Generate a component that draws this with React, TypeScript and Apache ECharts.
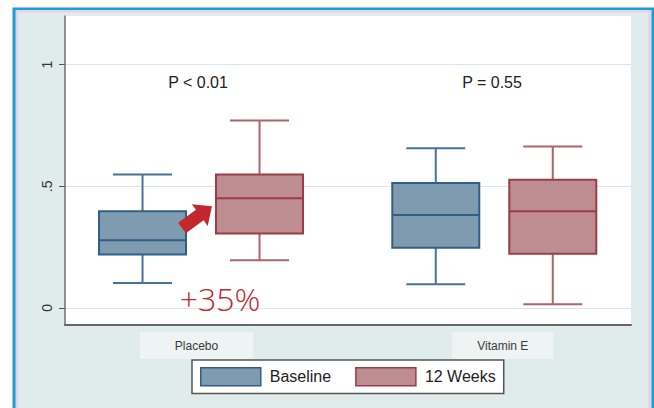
import React, { useEffect, useRef } from 'react';
import * as echarts from 'echarts';

// ---- data ----
const GROUPS = ['Placebo', 'Vitamin E'];
const SERIES_NAMES = ['Baseline', '12 Weeks'];
// [min, Q1, median, Q3, max]
const BASELINE = [
  [0.103, 0.22, 0.278, 0.398, 0.549],
  [0.097, 0.248, 0.382, 0.514, 0.656],
];
const WEEK12 = [
  [0.196, 0.306, 0.451, 0.549, 0.771],
  [0.015, 0.223, 0.398, 0.527, 0.664],
];
const Y_TICKS = [0, 0.5, 1];
const Y_TICK_LABELS = ['0', '.5', '1'];
const P_LABELS = ['P < 0.01', 'P = 0.55'];
const CHANGE_LABEL = '+35%';

const Y_MIN = -0.07;
const Y_MAX = 1.2;

const FONT = "'Liberation Sans', Arial, sans-serif";

const STYLES = [
  { offset: -58.5, fill: '#7f9bb0', stroke: '#2f5f87', whisker: '#45739a' },
  { offset: 58.5, fill: '#bd8d92', stroke: '#9c3c47', whisker: '#b0636c' },
];

const BOX_HALF = 43.5;
const CAP_HALF = 29.5;

function makeRender(st: any) {
  return (params: any, api: any) => {
    const cat = api.value(0);
    const p = (v: number) => api.coord([cat, v]);
    const x = p(api.value(3))[0] + st.offset;
    const yMin = p(api.value(1))[1];
    const yQ1 = p(api.value(2))[1];
    const yMed = p(api.value(3))[1];
    const yQ3 = p(api.value(4))[1];
    const yMax = p(api.value(5))[1];
    const ws = { stroke: st.whisker, lineWidth: 2 };
    return {
      type: 'group',
      children: [
        { type: 'line', shape: { x1: x, y1: yMax, x2: x, y2: yQ3 }, style: ws },
        { type: 'line', shape: { x1: x, y1: yQ1, x2: x, y2: yMin }, style: ws },
        { type: 'line', shape: { x1: x - CAP_HALF, y1: yMax, x2: x + CAP_HALF, y2: yMax }, style: ws },
        { type: 'line', shape: { x1: x - CAP_HALF, y1: yMin, x2: x + CAP_HALF, y2: yMin }, style: ws },
        {
          type: 'rect',
          shape: { x: x - BOX_HALF, y: yQ3, width: BOX_HALF * 2, height: yQ1 - yQ3 },
          style: { fill: st.fill, stroke: st.stroke, lineWidth: 2 },
        },
        { type: 'line', shape: { x1: x - BOX_HALF, y1: yMed, x2: x + BOX_HALF, y2: yMed }, style: { stroke: st.stroke, lineWidth: 2 } },
      ],
    };
  };
}

export default function App() {
  const ref = useRef<HTMLDivElement>(null);
  useEffect(() => {
    if (!ref.current) return;
    const chart = echarts.init(ref.current, null, { renderer: 'svg' });
    const seriesData = [BASELINE, WEEK12];
    const option: any = {
      animation: false,
      backgroundColor: '#ffffff',
      textStyle: { fontFamily: FONT },
      grid: [
        { left: 65, right: 23, top: 16, bottom: 83, show: true, backgroundColor: '#ffffff', borderWidth: 0 },
        { left: 54.4, right: 13.1, top: 16, bottom: 83 },
      ],
      xAxis: [
        {
          type: 'value', gridIndex: 0, min: 0, max: 1,
          axisLine: { show: true, onZero: false, lineStyle: { color: '#666', width: 2 } },
          axisTick: { show: false }, axisLabel: { show: false }, splitLine: { show: false },
        },
        {
          type: 'category', gridIndex: 1, data: GROUPS,
          axisLine: { show: false }, axisTick: { show: false }, splitLine: { show: false },
          axisLabel: {
            margin: 7,
            formatter: (v: string, i: number) => (i === 0 ? `{a|${v}}{sp1| }` : `{sp2| }{b|${v}}`),
            rich: {
              a: { width: 113, height: 27, lineHeight: 27, align: 'center', backgroundColor: '#eef3f3', color: '#3a3a3a', fontSize: 12, fontFamily: FONT },
              b: { width: 101, height: 27, lineHeight: 27, align: 'center', backgroundColor: '#eef3f3', color: '#3a3a3a', fontSize: 12, fontFamily: FONT },
              sp1: { width: 9, height: 27 },
              sp2: { width: 17, height: 27 },
            },
          },
        },
      ],
      yAxis: [
        {
          type: 'value', gridIndex: 0, min: Y_MIN, max: Y_MAX,
          axisLine: { show: true, onZero: false, lineStyle: { color: '#707070', width: 1.5 } },
          axisTick: { show: true, length: 6, customValues: Y_TICKS, lineStyle: { color: '#555', width: 1 } },
          axisLabel: {
            customValues: Y_TICKS, rotate: 90, margin: 11, color: '#333', fontSize: 14,
            formatter: (v: number) => {
              const i = Y_TICKS.findIndex((t) => Math.abs(t - v) < 1e-9);
              return i >= 0 ? Y_TICK_LABELS[i] : '';
            },
          },
          splitLine: { show: true, lineStyle: { color: '#d8e8e6', width: 1 } },
        },
        { type: 'value', gridIndex: 1, min: Y_MIN, max: Y_MAX, show: false, splitLine: { show: false } },
      ],
      legend: {
        left: 192, top: 360, orient: 'horizontal', icon: 'rect', selectedMode: false,
        itemWidth: 60, itemHeight: 18, itemGap: 24, padding: [7, 8],
        borderColor: '#555', borderWidth: 1.5, backgroundColor: '#ffffff',
        textStyle: { fontSize: 16, fontFamily: FONT, color: '#222', padding: [0, 0, 0, 4] },
        data: SERIES_NAMES.map((n, i) => ({
          name: n,
          itemStyle: { color: STYLES[i].fill, borderColor: STYLES[i].stroke, borderWidth: 1.5 },
        })),
      },
      graphic: [
        { type: 'rect', z: -3, shape: { x: 12.5, y: 7.5, width: 641.5, height: 400.5 }, style: { fill: '#1b9fd9' } },
        { type: 'rect', z: -2, shape: { x: 15.5, y: 10, width: 636, height: 398 }, style: { fill: '#e9d2e2' } },
        { type: 'rect', z: -1, shape: { x: 18, y: 12.5, width: 630, height: 395.5 }, style: { fill: '#dfeceb' } },
        {
          type: 'text', z: 10, x: 198, y: 82,
          style: { text: P_LABELS[0], fontSize: 16, fill: '#222', align: 'center', verticalAlign: 'middle', fontFamily: FONT },
        },
        {
          type: 'text', z: 10, x: 492, y: 82,
          style: { text: P_LABELS[1], fontSize: 16, fill: '#222', align: 'center', verticalAlign: 'middle', fontFamily: FONT },
        },
        {
          type: 'text', z: 10, x: 220, y: 298,
          style: { text: CHANGE_LABEL, fontSize: 32, fontWeight: 300, fill: '#c1272d', align: 'center', verticalAlign: 'middle', fontFamily: "'Open Sans', 'Liberation Sans', sans-serif" },
        },
        {
          type: 'group', z: 10, x: 182, y: 228, rotation: (36 * Math.PI) / 180,
          children: [
            {
              type: 'polygon', z: 10,
              shape: { points: [[0, -6.5], [22, -6.5], [22, -13.5], [37, 0], [22, 13.5], [22, 6.5], [0, 6.5]] },
              style: { fill: '#c1272d' },
            },
          ],
        },
      ],
      series: seriesData.map((d, i) => ({
        type: 'custom',
        name: SERIES_NAMES[i],
        xAxisIndex: 1,
        yAxisIndex: 1,
        renderItem: makeRender(STYLES[i]),
        itemStyle: { color: STYLES[i].fill },
        encode: { x: 0, y: [1, 2, 3, 4, 5] },
        data: d.map((row, j) => [j, ...row]),
        z: 5,
      })),
    };
    chart.setOption(option);
    return () => chart.dispose();
  }, []);
  return <div ref={ref} style={{ position: 'absolute', left: 0, top: 0, width: 654, height: 408 }} />;
}
